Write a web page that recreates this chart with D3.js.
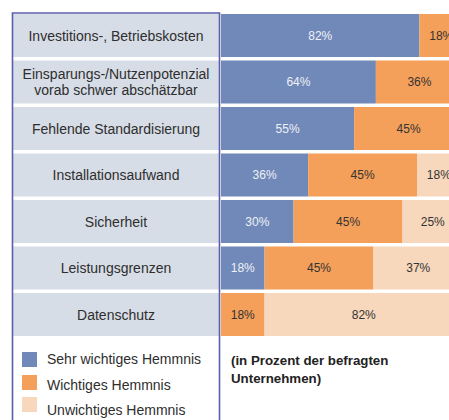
<!DOCTYPE html>
<html><head><meta charset="utf-8">
<script src="https://cdn.jsdelivr.net/npm/d3@7"></script>
<style>body{margin:0;background:#fff}svg{display:block}</style>
</head><body>
<script>
const categories = ["Investitions-, Betriebskosten", "Einsparungs-/Nutzenpotenzial\nvorab schwer abschätzbar", "Fehlende Standardisierung", "Installationsaufwand", "Sicherheit", "Leistungsgrenzen", "Datenschutz"];
const seriesNames = ["Sehr wichtiges Hemmnis", "Wichtiges Hemmnis", "Unwichtiges Hemmnis"];
const sehrWichtig = [82, 64, 55, 36, 30, 18, 0];
const wichtig = [18, 36, 45, 45, 45, 45, 18];
const unwichtig = [0, 0, 0, 18, 25, 37, 82];
const note = ["(in Prozent der befragten", "Unternehmen)"];

const colors = ["#7189b8", "#f5a05a", "#f7d8bc"];
const textColors = ["#eef1f7", "#333", "#333"];
const series = [sehrWichtig, wichtig, unwichtig];

const W = 449, H = 420;
const svg = d3.select("body").append("svg").attr("width", W).attr("height", H)
  .style("font-family", "'Liberation Sans', Arial, sans-serif");

const y = d3.scaleBand().domain(categories).range([12.25, 337.75]).paddingInner(0.075).paddingOuter(0.0375);
const x = d3.scaleLinear().domain([0, 100]).range([221, 463]);

// label boxes
svg.selectAll("rect.lab").data(categories).join("rect")
  .attr("x", 13).attr("width", 206).attr("y", d => y(d)).attr("height", y.bandwidth())
  .attr("fill", "#d7dde6");
svg.selectAll("text.lab").data(categories).join("text")
  .attr("text-anchor", "middle").attr("font-size", 14).attr("fill", "#2e2e2e")
  .each(function(d) {
    const lines = d.split("\n");
    const cy = y(d) + y.bandwidth() / 2;
    const t = d3.select(this);
    lines.forEach((l, i) => {
      t.append("tspan").attr("x", 116)
        .attr("y", cy + 5 + (i - (lines.length - 1) / 2) * 15.5).text(l);
    });
  });

// stacked bars
categories.forEach((c, i) => {
  let acc = 0;
  series.forEach((s, k) => {
    const v = s[i];
    if (v > 0) {
      svg.append("rect").attr("x", x(acc)).attr("width", x(acc + v) - x(acc))
        .attr("y", y(c)).attr("height", y.bandwidth()).attr("fill", colors[k]);
      svg.append("text").attr("x", (x(acc) + x(acc + v)) / 2).attr("y", y(c) + y.bandwidth() / 2 + 4.3)
        .attr("text-anchor", "middle").attr("font-size", 12).attr("fill", textColors[k]).text(v + "%");
    }
    acc += v;
  });
});

// frame
svg.append("path").attr("d", "M12.5,420 V13 H219.5 V420")
  .attr("fill", "none").attr("stroke", "#5b5fab").attr("stroke-width", 1.6);

// legend
const sqY = [352, 375, 397];
const txY = [364, 389.5, 415];
seriesNames.forEach((n, k) => {
  svg.append("rect").attr("x", 22).attr("y", sqY[k]).attr("width", 15).attr("height", 15).attr("fill", colors[k]);
  svg.append("text").attr("x", 47).attr("y", txY[k]).attr("font-size", 14).attr("fill", "#2e2e2e").text(n);
});

note.forEach((l, i) => {
  svg.append("text").attr("x", 231).attr("y", 365 + i * 18).attr("font-size", 13.3)
    .attr("font-weight", "bold").attr("fill", "#222").text(l);
});
</script>
</body></html>
